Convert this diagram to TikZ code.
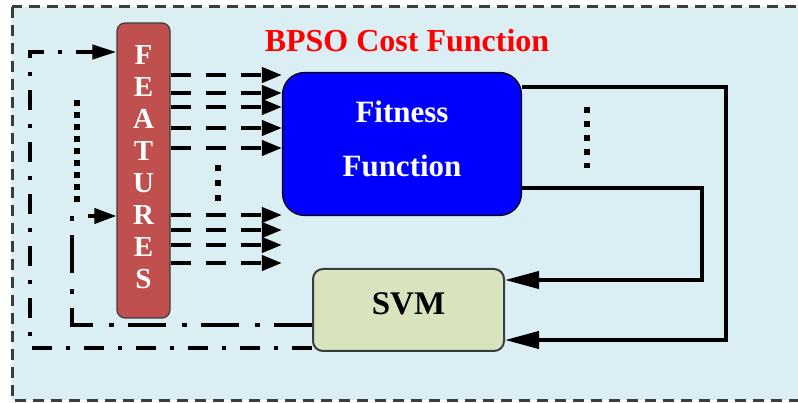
\documentclass[tikz,border=0pt]{standalone}
\usepackage{fontspec}
\setmainfont{Liberation Serif}
\usetikzlibrary{arrows.meta}

\definecolor{bgblue}{RGB}{219,238,244}
\definecolor{featred}{RGB}{192,80,77}
\definecolor{svmgreen}{RGB}{215,228,189}
\definecolor{edgegray}{RGB}{60,60,60}

\tikzset{
  feat box/.style={draw=edgegray, line width=1.2pt, fill=featred, rounded corners=8pt,
    minimum width=53pt, minimum height=295pt, inner sep=0pt, text=white, align=center,
    font=\bfseries\fontsize{29}{32}\selectfont, text depth=6pt},
  fit box/.style={draw=black, line width=1.2pt, fill=blue, rounded corners=22pt,
    minimum width=239pt, minimum height=143pt, inner sep=0pt, text=white, align=center,
    font=\bfseries\fontsize{31}{54}\selectfont, text depth=10pt},
  svm box/.style={draw=edgegray, line width=2pt, fill=svmgreen, rounded corners=10pt,
    minimum width=191pt, minimum height=82pt, inner sep=0pt,
    font=\bfseries\fontsize{33}{36}\selectfont, text depth=12pt},
  feat arrow/.style={line width=4pt, dash pattern=on 20pt off 15pt,
    -{Triangle[length=20pt,width=15pt]}},
  loop arrow/.style={line width=4pt, -{Triangle[length=34pt,width=17pt]}},
  outer loop/.style={line width=4pt, dash pattern=on 20pt off 14pt on 4pt off 14pt,
    -{Triangle[length=24pt,width=14pt]}},
  inner loop/.style={line width=4pt, dash pattern=on 38pt off 14pt on 5pt off 16pt,
    -{Triangle[length=22pt,width=15pt]}},
  dot line/.style={line width=6pt, dash pattern=on 6pt off #1},
}

\begin{document}
\begin{tikzpicture}[x=1pt, y=-1pt]
\useasboundingbox (0,0) rectangle (798,403);
\clip (0,0) rectangle (798,403);
%% frame;
\draw [draw=edgegray, line width=3pt, dash pattern=on 11pt off 7pt, fill=bgblue] (12,7) rectangle (812,400);
%% title;
\node (title) at (407,41) {\color{red}\bfseries\fontsize{32}{36}\selectfont BPSO Cost Function};
%% boxes;
\node [feat box] (features) at (143.5,170.5) {F\\E\\A\\T\\U\\R\\E\\S};
\node [fit box] (fitness) at (402,144) {Fitness\\Function};
\node [svm box] (svm) at (408.5,310) {SVM};
%% feature arrows;
\foreach \y in {75,93,107,128,148,215,230,245,263}
  \draw [feat arrow] (features.east |- 0,\y) -- (fitness.west |- 0,\y);
%% dots;
\draw [dot line=9pt] (218,165) -- (218,202);
\draw [dot line=8pt] (587,107) -- (587,168);
\draw [dot line=6pt] (77,100) -- (77,206);
%% loops back to svm;
\coordinate (r1) at (726,340);
\coordinate (r2) at (702,280);
\draw [loop arrow] (fitness.east |- 0,87) -| (r1) -- (r1 -| svm.east);
\draw [loop arrow] (fitness.east |- 0,188) -| (r2) -- (r2 -| svm.east);
%% loops back to features;
\coordinate (o1) at (30,348);
\coordinate (o2) at (30,52);
\coordinate (i1) at (72,325);
\coordinate (i2) at (72,216);
\draw [outer loop] (svm.west |- o1) -- (o1) -- (o2) -- (o2 -| features.west);
\draw [inner loop] (svm.west |- i1) -- (i1) -- (i2) -- (i2 -| features.west);
\end{tikzpicture}
\end{document}
